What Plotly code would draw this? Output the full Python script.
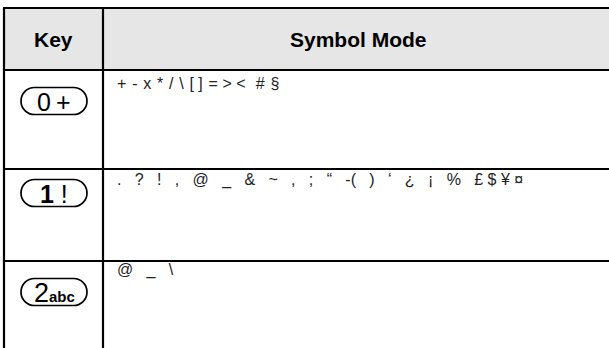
import plotly.graph_objects as go

W, H = 609, 348
headers = ["Key", "Symbol Mode"]
key_main = ["0\u2009+", "<b>1</b> !", "2"]
key_small = ["", "", "abc"]
NB = "\u00a0"
symbols = [
    ["+", "-", "x", "*", "/", "\\", "[ ]", "= > <", NB + "#", "§"],
    [".", "?", "!", ",", "@", "_", "&", "~", ",", ";", "“", "-(", ")", "‘", "¿", "¡", "%", "£ $ ¥ ¤"],
    ["@", "_", "\\"],
]

# layout (pixel geometry)
left, right, divx = 4, 609, 103
top, head_bot = 8, 70
row_bounds = [70, 169, 261, 348]
text_off = [3, 0, -2]

fig = go.Figure()
shapes = []
shapes.append(dict(type="rect", x0=left, x1=right + 2, y0=top, y1=head_bot,
                   fillcolor="#e6e6e6", line=dict(width=0), layer="below"))
lw = 2.2
for y in [top, head_bot, row_bounds[1], row_bounds[2]]:
    shapes.append(dict(type="line", x0=left - 1, x1=right + 2, y0=y, y1=y,
                       line=dict(color="black", width=lw)))
shapes.append(dict(type="line", x0=left, x1=left, y0=top, y1=H + 2, line=dict(color="black", width=lw)))
shapes.append(dict(type="line", x0=divx, x1=divx, y0=top, y1=H + 2, line=dict(color="black", width=lw)))


def pill(cx, cy, w, h):
    r = h / 2
    k = 0.5523 * r
    x0, x1 = cx - w / 2 + r, cx + w / 2 - r
    y0, y1 = cy - r, cy + r
    p = (f"M {x0},{y0} L {x1},{y0} "
         f"C {x1 + k},{y0} {x1 + r},{cy - k} {x1 + r},{cy} "
         f"C {x1 + r},{cy + k} {x1 + k},{y1} {x1},{y1} "
         f"L {x0},{y1} "
         f"C {x0 - k},{y1} {x0 - r},{cy + k} {x0 - r},{cy} "
         f"C {x0 - r},{cy - k} {x0 - k},{y0} {x0},{y0} Z")
    return dict(type="path", path=p, line=dict(color="black", width=1.7), fillcolor="white")


annotations = []
annotations.append(dict(x=(left + divx) / 2, y=(top + head_bot) / 2, text="<b>" + headers[0] + "</b>",
                        showarrow=False, font=dict(family="Liberation Sans, Arial", size=21, color="black")))
annotations.append(dict(x=(divx + right) / 2 + 2, y=(top + head_bot) / 2, text="<b>" + headers[1] + "</b>",
                        showarrow=False, font=dict(family="Liberation Sans, Arial", size=21, color="black")))

gaps = [" \u200a", NB * 2 + " ", NB * 2 + " "]
pill_cy = [101, 193, 292]
for i in range(3):
    cx = 54
    shapes.append(pill(cx, pill_cy[i], 66, 27))
    if key_small[i]:
        txt = (f"<span style='font-size:27px'>{key_main[i]}</span>"
               f"<span style='font-size:15px'><b>{key_small[i]}</b></span>")
    else:
        txt = key_main[i]
    annotations.append(dict(x=cx, y=pill_cy[i] + 1, text=txt, showarrow=False,
                            font=dict(family="Liberation Sans, Arial", size=25, color="black")))
    annotations.append(dict(x=115, y=row_bounds[i] + text_off[i], text=gaps[i].join(symbols[i]), showarrow=False,
                            xanchor="left", yanchor="top",
                            font=dict(family="Liberation Sans, Arial", size=16, color="#222222")))

fig.update_layout(
    width=W, height=H, margin=dict(l=0, r=0, t=0, b=0),
    paper_bgcolor="white", plot_bgcolor="white",
    xaxis=dict(range=[0, W], visible=False, fixedrange=True),
    yaxis=dict(range=[H, 0], visible=False, fixedrange=True),
    shapes=shapes, annotations=annotations, showlegend=False,
)
fig.write_html("out.html", config={"displayModeBar": False},
               post_script="document.body.style.margin='0';document.body.style.overflow='hidden';")
